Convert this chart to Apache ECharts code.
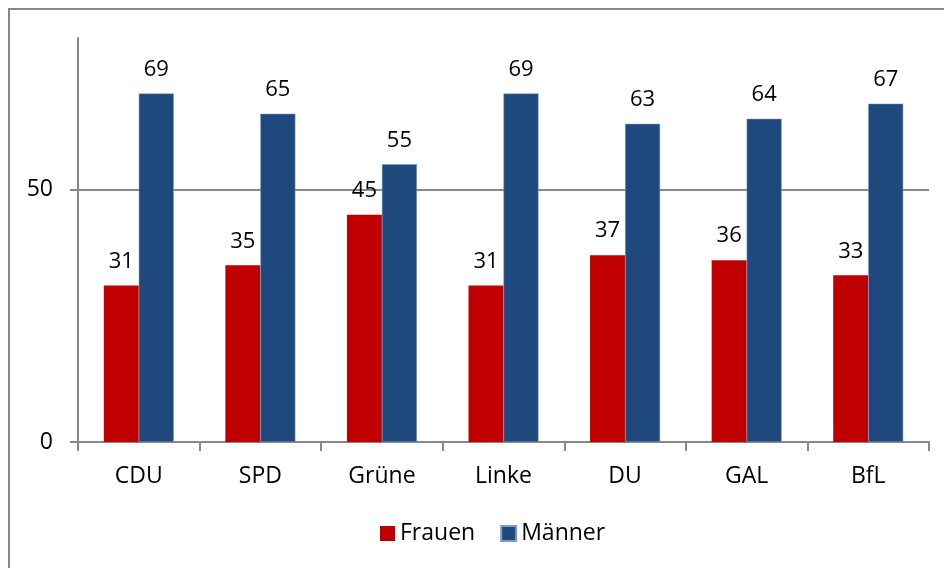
<!DOCTYPE html>
<html>
<head>
<meta charset="utf-8">
<script src="https://cdn.jsdelivr.net/npm/echarts@6/dist/echarts.min.js"></script>
<style>
  html, body { margin: 0; padding: 0; background: #fff; }
  #chart { width: 944px; height: 568px; }
</style>
</head>
<body>
<div id="chart"></div>
<script>
var parteien = ["CDU", "SPD", "Grüne", "Linke", "DU", "GAL", "BfL"];
var frauen = [31, 35, 45, 31, 37, 36, 33];
var maenner = [69, 65, 55, 69, 63, 64, 67];
var yTicks = [0, 50];

var dom = document.getElementById("chart");
var myChart = echarts.init(dom);
var font = "'Open Sans', 'Noto Sans', sans-serif";

var labelStyle = {
    show: true,
    position: "top",
    distance: 13,
    color: "#000",
    fontSize: 22,
    fontFamily: font
};

var option = {
    animation: false,
    textStyle: { fontFamily: font },
    graphic: [
        {
            type: "rect",
            shape: { x: 9, y: 9, width: 1000, height: 700 },
            style: { fill: null, stroke: "#888", lineWidth: 2 },
            silent: true
        }
    ],
    grid: {
        left: 78,
        right: 15,
        top: 38,
        bottom: 126
    },
    legend: {
        bottom: 18,
        left: 375,
        itemWidth: 15,
        itemHeight: 15,
        itemGap: 25,
        icon: "rect",
        textStyle: { fontSize: 23, color: "#000", fontFamily: font },
        data: ["Frauen", "Männer"]
    },
    xAxis: {
        type: "category",
        data: parteien,
        axisLine: { lineStyle: { color: "#888", width: 2 } },
        axisTick: { show: true, length: 9, lineStyle: { color: "#888", width: 2 } },
        axisLabel: { color: "#000", fontSize: 23, margin: 23, fontFamily: font }
    },
    yAxis: {
        type: "value",
        min: 0,
        max: 80,
        interval: 50,
        axisLine: { show: true, lineStyle: { color: "#888", width: 2 } },
        axisTick: { show: true, length: 8, customValues: yTicks, lineStyle: { color: "#888", width: 2 } },
        axisLabel: { color: "#000", fontSize: 23, margin: 25, customValues: yTicks, fontFamily: font },
        splitLine: { show: true, lineStyle: { color: "#888", width: 2 } }
    },
    series: [
        {
            name: "Frauen",
            type: "bar",
            data: frauen,
            barWidth: 35,
            barGap: "0%",
            itemStyle: { color: "#C00000" },
            label: labelStyle
        },
        {
            name: "Männer",
            type: "bar",
            data: maenner,
            barWidth: 35,
            barGap: "0%",
            itemStyle: { color: "#1F497D", borderColor: "#7A9CC6", borderWidth: 0.5 },
            label: labelStyle
        }
    ]
};

if (option && typeof option === "object") {
    myChart.setOption(option, true);
}
window.addEventListener("resize", function () {
    myChart.resize();
});
</script>
</body>
</html>
